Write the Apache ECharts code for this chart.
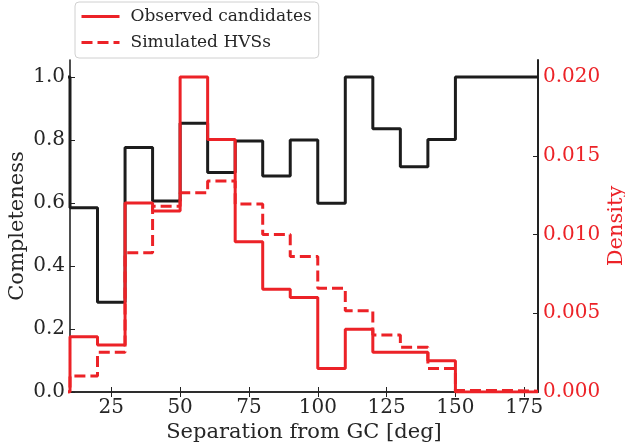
<!doctype html>
<html>
<head>
<meta charset="UTF-8">
<title>Completeness and density</title>
<script src="https://cdn.jsdelivr.net/npm/echarts@6/dist/echarts.min.js"></script>
</head>
<body style="margin:0">
<div id="chart" style="width: 625px; height: 446px;"></div>
<script>
// bin left edges (deg); last edge closes the histogram
var edges = [0, 10, 20, 30, 40, 50, 60, 70, 80, 90, 100, 110, 120, 130, 140, 150, 160, 170, 180];
var completeness = [1.0, 0.585, 0.285, 0.776, 0.606, 0.853, 0.697, 0.797, 0.686, 0.80, 0.599, 1.0, 0.836, 0.715, 0.802, 1.0, 1.0, 1.0];
var observed = [0, 0.00351, 0.00298, 0.0120, 0.01149, 0.0200, 0.01604, 0.00954, 0.00652, 0.0060, 0.0015, 0.00398, 0.00252, 0.00252, 0.00199, 0, 0, 0];
var simulated = [0, 0.00102, 0.00252, 0.00884, 0.0118, 0.01265, 0.0134, 0.01194, 0.0100, 0.0086, 0.00658, 0.00516, 0.00362, 0.00284, 0.0015, 0.0001, 0.0001, 0.00005];
var xTicks = [25, 50, 75, 100, 125, 150, 175];
var leftTicks = [0, 0.2, 0.4, 0.6, 0.8, 1.0];
var rightTicks = [0, 0.005, 0.010, 0.015, 0.020];

function steps(vals) {
    var pts = [];
    for (var i = 0; i < vals.length; i++) pts.push([edges[i], vals[i]]);
    pts.push([edges[vals.length], vals[vals.length - 1]]);
    return pts;
}

var font = 'DejaVu Serif';
var ink = '#262626';
var red = '#ec2227';
var spine = {show: true, lineStyle: {color: '#222', width: 1.6}};

var chart = echarts.init(document.getElementById('chart'));
chart.setOption({
    animation: false,
    textStyle: {fontFamily: font},
    grid: {left: 70, right: 87, top: 60, bottom: 54, outerBoundsMode: 'none'},
    legend: {
        left: 75, top: 2,
        orient: 'vertical',
        data: ['Observed candidates', 'Simulated HVSs'],
        itemWidth: 38, itemHeight: 14, itemGap: 9,
        padding: [6, 7, 7, 5],
        itemStyle: {opacity: 0},
        lineStyle: {width: 3},
        borderColor: '#d0d0d0', borderWidth: 1, borderRadius: 4,
        textStyle: {fontFamily: font, fontSize: 17, color: ink, padding: [0, 0, 0, 6]}
    },
    xAxis: [{
        type: 'value', min: 10, max: 180, position: 'bottom',
        name: 'Separation from GC [deg]', nameLocation: 'middle', nameGap: 30,
        nameMoveOverlap: false,
        nameTextStyle: {fontFamily: font, fontSize: 21, color: ink},
        axisLine: spine,
        axisTick: {show: true, inside: true, length: 5, customValues: xTicks, lineStyle: {color: '#222'}},
        axisLabel: {customValues: xTicks, fontFamily: font, fontSize: 20, color: ink, margin: 6},
        splitLine: {show: false}
    }, {
        type: 'value', min: 10, max: 180, position: 'top',
        axisLine: spine,
        axisTick: {show: true, inside: true, length: 5, customValues: xTicks, lineStyle: {color: '#222'}},
        axisLabel: {show: false},
        splitLine: {show: false}
    }],
    yAxis: [{
        type: 'value', min: 0, max: 1.054, position: 'left',
        name: 'Completeness', nameLocation: 'middle', nameGap: 42, nameRotate: 90,
        nameMoveOverlap: false,
        nameTextStyle: {fontFamily: font, fontSize: 21, color: ink},
        axisLine: spine,
        axisTick: {show: true, inside: true, length: 5, customValues: leftTicks, lineStyle: {color: '#222'}},
        axisLabel: {customValues: leftTicks, fontFamily: font, fontSize: 20, color: ink, margin: 5,
            formatter: function (v) { return v.toFixed(1); }},
        splitLine: {show: false}
    }, {
        type: 'value', min: 0, max: 0.02108, position: 'right',
        name: 'Density', nameLocation: 'middle', nameGap: 68, nameRotate: 90,
        nameMoveOverlap: false,
        nameTextStyle: {fontFamily: font, fontSize: 21, color: red},
        axisLine: {show: true, lineStyle: {color: '#222', width: 2}},
        axisTick: {show: true, inside: true, length: 5, customValues: rightTicks, lineStyle: {color: '#222'}},
        axisLabel: {customValues: rightTicks, fontFamily: font, fontSize: 20, color: red, margin: 5,
            formatter: function (v) { return v.toFixed(3); }},
        splitLine: {show: false}
    }],
    series: [{
        name: 'Completeness', type: 'line', step: 'end', yAxisIndex: 0,
        data: steps(completeness), symbol: 'none',
        lineStyle: {color: '#1c1c1c', width: 3}, itemStyle: {color: '#1c1c1c'}
    }, {
        name: 'Simulated HVSs', type: 'line', step: 'end', yAxisIndex: 1,
        data: steps(simulated), symbol: 'none',
        lineStyle: {color: red, width: 3, type: [11, 5]}, itemStyle: {color: red}
    }, {
        name: 'Observed candidates', type: 'line', step: 'end', yAxisIndex: 1,
        data: steps(observed), symbol: 'none',
        lineStyle: {color: red, width: 3}, itemStyle: {color: red}
    }]
});
</script>
</body>
</html>
